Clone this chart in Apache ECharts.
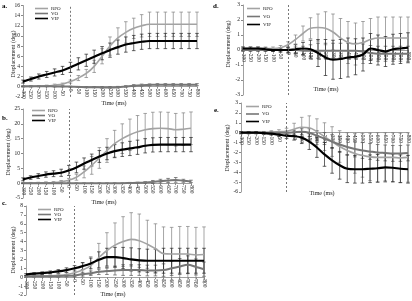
<!DOCTYPE html>
<html>
<head>
<meta charset="utf-8">
<script src="https://cdn.jsdelivr.net/npm/echarts@6/dist/echarts.min.js"></script>
<style>
html, body { margin: 0; padding: 0; background: #fff; }
#chart { width: 412px; height: 301px; }
</style>
</head>
<body>
<div id="chart"></div>
<script>
var times = ['-300','-250','-200','-150','-100','-50','0','50','100','150','200','250','300','350','400','450','500','550','600','650','700','750','800'];

// a.
var aRPO   = [0, 0.05, 0.1, 0.15, 0.3, 0.5, 1.0, 1.7, 2.6, 4.0, 6.0, 8.0, 9.6, 10.7, 11.5, 12.0, 12.3, 12.3, 12.3, 12.3, 12.3, 12.3, 12.3];
var aRPOsd = [0.1, 0.1, 0.1, 0.15, 0.2, 0.2, 0.3, 0.5, 0.8, 1.2, 1.5, 1.8, 2.0, 2.1, 2.0, 2.2, 2.4, 2.4, 2.4, 2.4, 2.4, 2.4, 2.4];
var aVO    = [0.1, 0.1, 0.1, 0.1, 0.05, 0.05, 0, -0.05, -0.1, -0.1, -0.15, -0.15, -0.1, 0.05, 0.2, 0.3, 0.35, 0.4, 0.4, 0.4, 0.4, 0.4, 0.4];
var aVOsd  = [0.1, 0.1, 0.1, 0.1, 0.1, 0.1, 0.1, 0.1, 0.1, 0.1, 0.15, 0.15, 0.15, 0.15, 0.2, 0.2, 0.2, 0.2, 0.2, 0.2, 0.2, 0.2, 0.2];
var aVIP   = [1.0, 1.5, 2.0, 2.4, 2.8, 3.2, 3.8, 4.5, 5.2, 5.9, 6.6, 7.2, 7.8, 8.3, 8.6, 8.85, 9.0, 9.0, 9.0, 9.0, 9.0, 9.0, 9.0];
var aVIPsd = [0.3, 0.4, 0.5, 0.6, 0.7, 0.8, 1.0, 1.2, 1.2, 1.3, 1.3, 1.4, 1.4, 1.5, 1.5, 1.5, 1.5, 1.5, 1.5, 1.5, 1.5, 1.5, 1.5];

// b.
var bRPO   = [0, 0.05, 0.1, 0.15, 0.25, 0.5, 1.0, 2.0, 3.8, 6.0, 8.5, 11.0, 13.3, 15.0, 16.3, 17.3, 18.0, 18.4, 18.5, 18.4, 18.0, 18.2, 18.5];
var bRPOsd = [0.2, 0.2, 0.2, 0.3, 0.3, 0.4, 0.6, 1.0, 2.0, 3.0, 3.5, 4.0, 4.5, 5.0, 5.3, 5.5, 5.5, 5.5, 5.5, 5.5, 5.5, 5.5, 5.5];
var bVO    = [0, 0, 0, 0, 0, 0, 0, 0, 0, 0, 0, 0, 0, 0, 0.05, 0.1, 0.2, 0.4, 0.7, 0.9, 1.1, 0.8, 0.6];
var bVOsd  = [0.1, 0.1, 0.1, 0.1, 0.1, 0.1, 0.1, 0.1, 0.1, 0.1, 0.1, 0.1, 0.1, 0.1, 0.2, 0.2, 0.3, 0.5, 0.6, 0.7, 0.8, 0.5, 0.4];
var bVIP   = [1.3, 1.9, 2.4, 2.9, 3.2, 3.5, 4.3, 5.3, 6.6, 7.8, 9.0, 10.0, 10.8, 11.3, 11.7, 12.1, 12.6, 12.9, 13.0, 13.0, 13.0, 13.0, 13.0];
var bVIPsd = [0.5, 0.6, 0.8, 0.9, 1.0, 1.2, 1.7, 1.8, 1.9, 2.0, 2.0, 2.1, 2.2, 2.3, 2.4, 2.4, 2.4, 2.4, 2.4, 2.4, 2.4, 2.4, 2.4];

// c.
var cRPO   = [0.1, 0.1, 0.12, 0.15, 0.2, 0.3, 0.5, 0.8, 1.3, 2.2, 3.0, 3.6, 4.0, 4.25, 4.1, 3.7, 3.2, 2.65, 2.6, 2.6, 2.6, 2.5, 2.55];
var cRPOsd = [0.1, 0.1, 0.1, 0.1, 0.15, 0.2, 0.4, 0.8, 1.0, 1.6, 2.0, 2.5, 2.8, 3.0, 3.0, 2.7, 2.8, 3.0, 3.0, 3.1, 3.1, 3.1, 3.1];
var cVO    = [0.1, 0.1, 0.1, 0.1, 0.12, 0.15, 0.2, 0.35, 0.45, 0.6, 0.7, 0.75, 0.8, 0.8, 0.8, 0.75, 0.75, 0.8, 1.0, 1.2, 1.4, 1.15, 0.9];
var cVOsd  = [0.05, 0.05, 0.05, 0.05, 0.1, 0.1, 0.15, 0.2, 0.25, 0.3, 0.4, 0.5, 0.6, 0.6, 0.6, 0.6, 0.6, 0.7, 0.8, 0.9, 1.0, 0.9, 0.8];
var cVIP   = [0.3, 0.4, 0.45, 0.55, 0.65, 0.8, 1.0, 1.25, 1.55, 1.95, 2.25, 2.25, 2.15, 2.0, 1.9, 1.85, 1.85, 1.85, 1.85, 1.85, 1.85, 1.85, 1.85];
var cVIPsd = [0.1, 0.1, 0.15, 0.15, 0.2, 0.25, 0.3, 0.4, 0.6, 0.9, 1.0, 1.1, 1.2, 1.3, 1.3, 1.3, 1.3, 1.4, 1.4, 1.4, 1.4, 1.4, 1.4];

// d.
var dRPO   = [0.1, 0.1, 0.1, 0.1, 0.1, 0.15, 0.35, 0.7, 1.1, 1.45, 1.5, 1.45, 1.2, 0.8, 0.5, 0.4, 0.5, 0.7, 0.8, 0.8, 0.8, 0.8, 0.8];
var dRPOsd = [0.1, 0.1, 0.1, 0.1, 0.1, 0.15, 0.2, 0.3, 0.5, 0.7, 0.9, 1.1, 1.2, 1.3, 1.4, 1.4, 1.4, 1.4, 1.4, 1.4, 1.4, 1.4, 1.4];
var dVO    = [0, 0, 0, 0, 0, 0, 0, 0, -0.05, -0.05, -0.05, -0.05, -0.05, -0.05, -0.05, -0.05, -0.1, -0.2, -0.25, -0.25, -0.25, -0.25, -0.25];
var dVOsd  = [0.1, 0.1, 0.1, 0.1, 0.1, 0.1, 0.15, 0.2, 0.3, 0.4, 0.5, 0.5, 0.5, 0.5, 0.5, 0.5, 0.5, 0.5, 0.5, 0.5, 0.5, 0.5, 0.5];
var dVIP   = [0.1, 0.1, 0.1, 0.05, 0, 0, 0, 0.05, 0.1, 0.05, -0.2, -0.5, -0.65, -0.6, -0.5, -0.45, -0.3, 0.1, 0.0, -0.1, 0.05, 0.1, 0.15];
var dVIPsd = [0.1, 0.1, 0.1, 0.1, 0.1, 0.15, 0.2, 0.3, 0.4, 0.6, 0.9, 1.2, 1.3, 1.3, 1.3, 1.2, 1.1, 1.0, 1.0, 1.0, 1.0, 1.0, 1.0];

// e.
var eRPO   = [0, 0, 0, 0.02, 0.05, 0.1, 0.15, 0.35, 0.55, 0.5, 0.1, -0.4, -0.9, -1.4, -1.8, -2.1, -2.3, -2.45, -2.5, -2.5, -2.5, -2.55, -2.5];
var eRPOsd = [0.1, 0.1, 0.1, 0.1, 0.15, 0.2, 0.3, 0.6, 1.0, 1.2, 1.3, 1.4, 1.5, 1.6, 1.8, 2.0, 2.2, 2.4, 2.5, 2.5, 2.5, 2.5, 2.5];
var eVO    = [0, 0, 0, 0, 0, 0, 0, 0.05, 0.1, 0, -0.3, -0.6, -0.9, -1.2, -1.45, -1.65, -1.8, -1.9, -2.0, -2.05, -2.1, -2.1, -2.05];
var eVOsd  = [0.1, 0.1, 0.1, 0.1, 0.1, 0.1, 0.15, 0.2, 0.3, 0.4, 0.5, 0.6, 0.7, 0.8, 0.8, 0.8, 0.8, 0.8, 0.8, 0.8, 0.8, 0.8, 0.8];
var eVIP   = [0, 0, 0, -0.05, -0.1, -0.2, -0.3, -0.35, -0.5, -0.9, -1.5, -2.2, -2.8, -3.3, -3.65, -3.7, -3.7, -3.65, -3.6, -3.5, -3.55, -3.65, -3.7];
var eVIPsd = [0.1, 0.1, 0.1, 0.1, 0.15, 0.2, 0.3, 0.4, 0.6, 0.8, 1.0, 1.2, 1.3, 1.4, 1.4, 1.4, 1.4, 1.4, 1.4, 1.4, 1.4, 1.4, 1.4];

var names = ['RPO', 'VO', 'VIP'];
var lineColors = ['#a3a3a3', '#767676', '#000000'];
var lineWidths = [1.6, 2, 2.2];
var errColors = ['#808080', '#555555', '#222222'];
var font = 'Liberation Serif';

// grid: left, top, width, height; y: min, max, step; lg: legend left, top, gap
// yName / xName: centre of the axis title
var panels = [
    { label: 'a.', lx: 2, ly: 3, grid: [23, 5.5, 174, 91.3], y: [-2, 16, 2], lg: [35, 6, 0],
      yName: [13, 54], xName: [114, 103],
      s: [[aRPO, aRPOsd], [aVO, aVOsd], [aVIP, aVIPsd]] },
    { label: 'b.', lx: 2, ly: 115, grid: [23, 109, 168, 89], y: [-5, 25, 5], lg: [32, 108, 0],
      yName: [8, 152], xName: [104, 202],
      s: [[bRPO, bRPOsd], [bVO, bVOsd], [bVIP, bVIPsd]] },
    { label: 'c.', lx: 2, ly: 200, grid: [26, 206, 178, 89], y: [-2, 8, 1], lg: [38, 207, 0],
      yName: [13, 250], xName: [113, 294],
      s: [[cRPO, cRPOsd], [cVO, cVOsd], [cVIP, cVIPsd]] },
    { label: 'd.', lx: 213, ly: 3, grid: [243, 5, 165, 90], y: [-3, 3, 1], lg: [247, 6, 3],
      yName: [228, 44], xName: [326, 89],
      s: [[dRPO, dRPOsd], [dVO, dVOsd], [dVIP, dVIPsd]] },
    { label: 'e.', lx: 214, ly: 107, grid: [241, 103, 167, 89], y: [-6, 3, 1], lg: [246, 104, 2.5],
      yName: [227, 148], xName: [322, 193],
      s: [[eRPO, eRPOsd], [eVO, eVOsd], [eVIP, eVIPsd]] }
];

function errBars(gi, vals, sds, color) {
    return {
        type: 'custom',
        xAxisIndex: gi,
        yAxisIndex: gi,
        silent: true,
        z: 1,
        encode: { x: 0, y: [1, 2] },
        data: vals.map(function (v, i) { return [i, v - sds[i], v + sds[i]]; }),
        renderItem: function (params, api) {
            var lo = api.coord([api.value(0), api.value(1)]);
            var hi = api.coord([api.value(0), api.value(2)]);
            var w = 1.8;
            var st = { stroke: color, lineWidth: 0.7 };
            return {
                type: 'group',
                children: [
                    { type: 'line', shape: { x1: lo[0], y1: lo[1], x2: hi[0], y2: hi[1] }, style: st },
                    { type: 'line', shape: { x1: lo[0] - w, y1: lo[1], x2: lo[0] + w, y2: lo[1] }, style: st },
                    { type: 'line', shape: { x1: hi[0] - w, y1: hi[1], x2: hi[0] + w, y2: hi[1] }, style: st }
                ]
            };
        }
    };
}

var grids = [], xAxes = [], yAxes = [], legends = [], titles = [], series = [], texts = [];

panels.forEach(function (p, gi) {
    grids.push({ left: p.grid[0], top: p.grid[1], width: p.grid[2], height: p.grid[3] });
    titles.push({
        text: p.label, left: p.lx, top: p.ly, padding: 0,
        textStyle: { fontFamily: font, fontSize: 7, fontWeight: 'bold', color: '#000' }
    });
    texts.push({
        type: 'text', x: p.yName[0], y: p.yName[1], rotation: Math.PI / 2, silent: true,
        style: { text: 'Displacement (deg)', align: 'center', verticalAlign: 'middle',
                 fontFamily: font, fontSize: 6, fill: '#222' }
    });
    texts.push({
        type: 'text', x: p.xName[0], y: p.xName[1], silent: true,
        style: { text: 'Time (ms)', align: 'center', verticalAlign: 'middle',
                 fontFamily: font, fontSize: 6, fill: '#222' }
    });
    // the time axis sits on y = 0, like the Excel original
    var zeroUp = p.grid[3] * (0 - p.y[0]) / (p.y[1] - p.y[0]);
    xAxes.push({
        type: 'category', gridIndex: gi, data: times, boundaryGap: false,
        position: 'bottom', offset: -zeroUp,
        axisLine: { onZero: false, lineStyle: { color: '#888', width: 0.8 } },
        axisTick: { show: true, length: 2, lineStyle: { color: '#888' } },
        axisLabel: { rotate: -90, interval: 0, margin: 2, fontFamily: font, fontSize: 5.5, color: '#1a1a1a' },
        splitLine: { show: false }
    });
    yAxes.push({
        type: 'value', gridIndex: gi, min: p.y[0], max: p.y[1], interval: p.y[2],
        axisLine: { show: true, onZero: false, lineStyle: { color: '#888', width: 0.8 } },
        axisTick: { show: true, length: 2, lineStyle: { color: '#888' } },
        axisLabel: { margin: 3, fontFamily: font, fontSize: 5.5, color: '#1a1a1a' },
        splitLine: { show: false }
    });
    legends.push({
        data: names, orient: 'vertical', left: p.lg[0], top: p.lg[1], padding: 0,
        icon: 'rect', itemGap: p.lg[2], itemWidth: 13, itemHeight: 1.6,
        textStyle: { fontFamily: font, fontSize: 5, color: '#222', padding: [0, 0, 0, -2] }
    });
    p.s.forEach(function (pair, k) {
        series.push(errBars(gi, pair[0], pair[1], errColors[k]));
    });
    p.s.forEach(function (pair, k) {
        var s = {
            type: 'line', name: names[k], xAxisIndex: gi, yAxisIndex: gi,
            data: pair[0], smooth: 0.35, symbol: 'none', z: 3,
            lineStyle: { color: lineColors[k], width: lineWidths[k] },
            itemStyle: { color: lineColors[k] }
        };
        if (k === 2) {
            s.markLine = {
                silent: true, symbol: 'none', label: { show: false },
                lineStyle: { color: '#555', type: [2, 2], width: 0.8 },
                data: [{ xAxis: '0' }]
            };
        }
        series.push(s);
    });
});

var chart = echarts.init(document.getElementById('chart'));
chart.setOption({
    animation: false,
    backgroundColor: '#fff',
    title: titles,
    grid: grids,
    xAxis: xAxes,
    yAxis: yAxes,
    legend: legends,
    graphic: texts,
    series: series
});
</script>
</body>
</html>
